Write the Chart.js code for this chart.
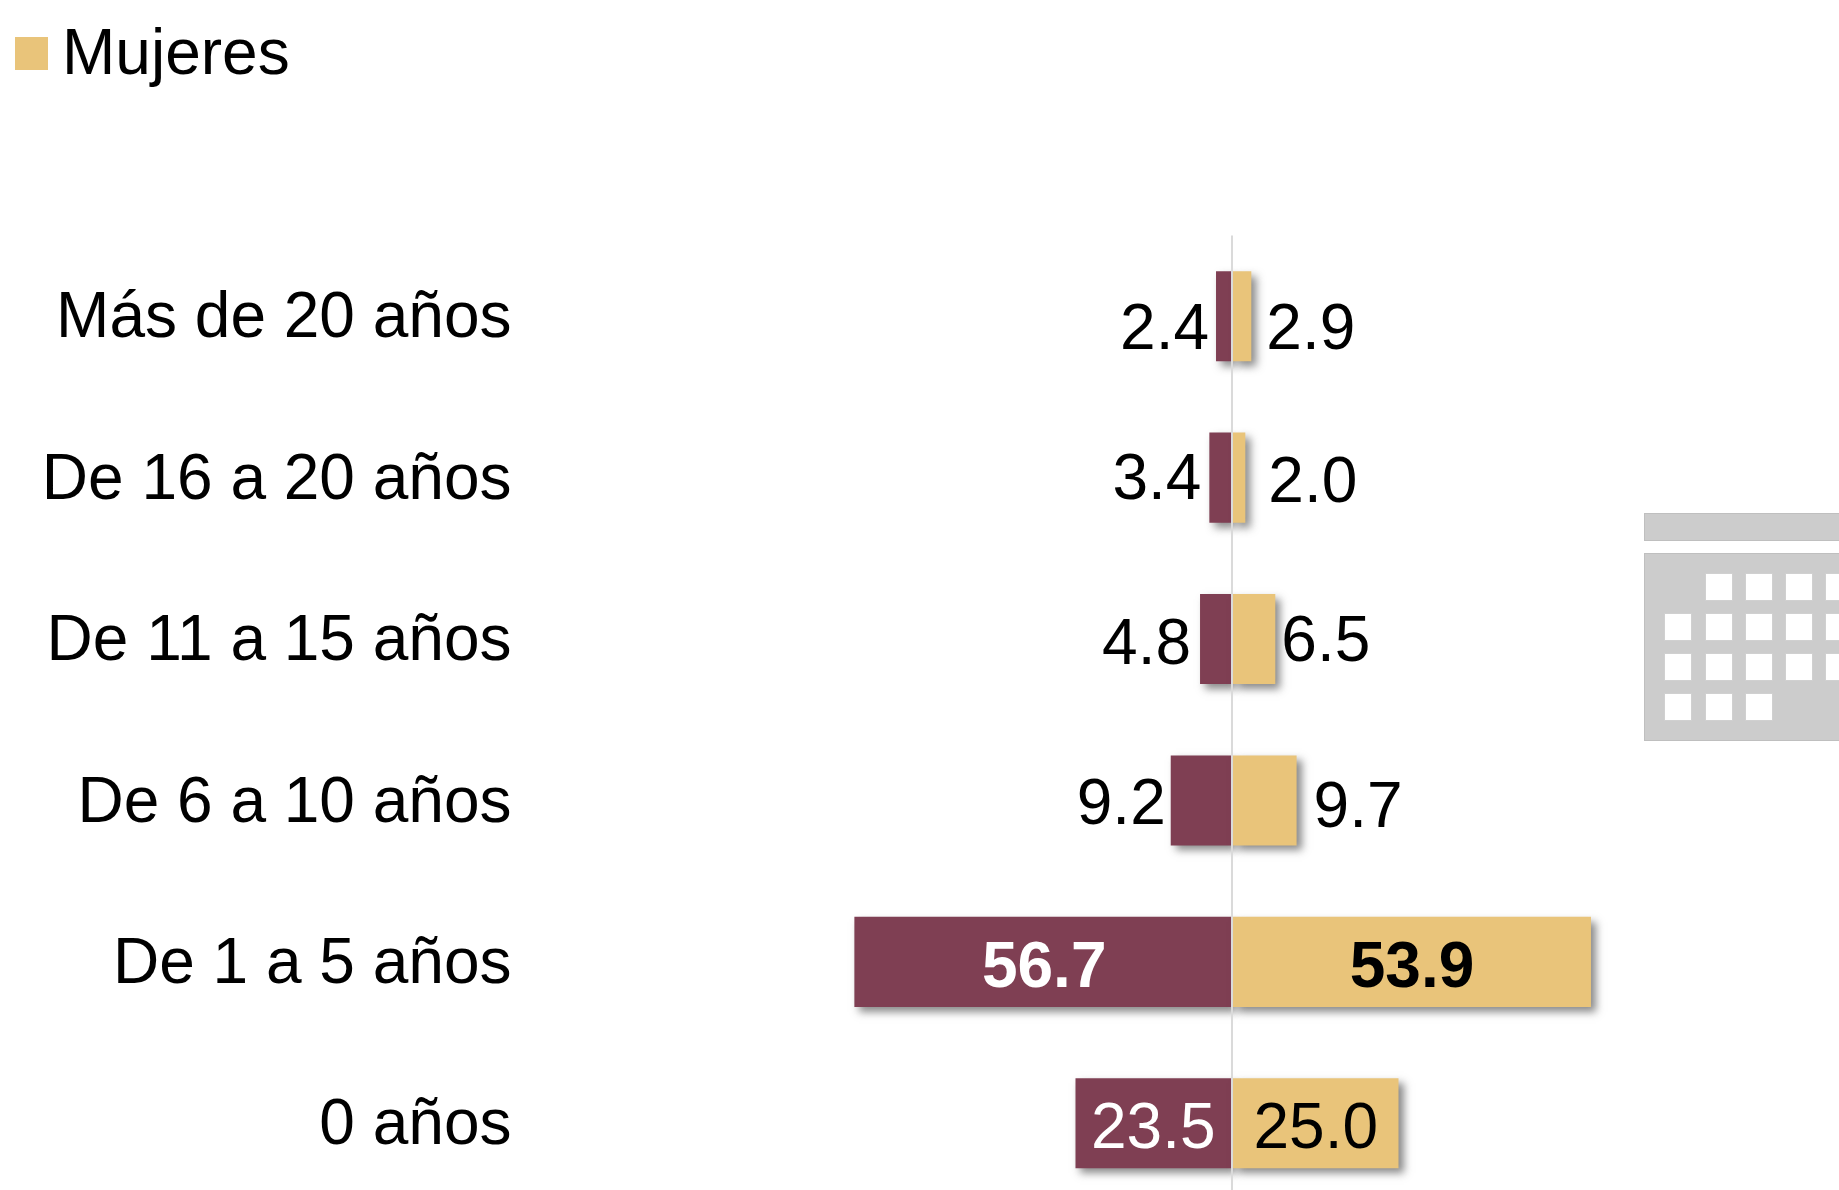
<!DOCTYPE html>
<html lang="es">
<head>
<meta charset="utf-8">
<script src="https://cdn.jsdelivr.net/npm/chart.js@4"></script>
<style>
html,body{margin:0;padding:0;width:1839px;height:1190px;overflow:hidden;background:#fff}
#wrap{position:relative;width:1839px;height:1190px;overflow:hidden}
canvas{position:absolute;left:0;top:0}
</style>
</head>
<body>
<div id="wrap"><canvas id="c" width="1839" height="1210"></canvas></div>
<script>
const categories = ["Más de 20 años","De 16 a 20 años","De 11 a 15 años","De 6 a 10 años","De 1 a 5 años","0 años"];
const hombres = [2.4,3.4,4.8,9.2,56.7,23.5];
const mujeres = [2.9,2.0,6.5,9.7,53.9,25.0];
const legendLabel = "Mujeres";
const WINE = "#7F3F53", GOLD = "#E9C47A", FONT = '"Liberation Sans", Arial, sans-serif';

const hombresDx = [-7,-8,-9,-5,null,null];
const hombresDy = [33,21,25,24,25,25];
const mujeresDx = [15,23,6,17,null,null];
const mujeresDy = [33,24,22,27,25,25];
const labelShiftX = [0,0,0,0,1.5,0];

const shadow = {
  id:'shadow',
  beforeDatasetsDraw(chart){
    const c = chart.ctx; c.save();
    c.shadowColor='rgba(60,60,60,.6)'; c.shadowBlur=8; c.shadowOffsetX=5; c.shadowOffsetY=5;
  },
  afterDatasetsDraw(chart){ chart.ctx.restore(); }
};

const valueLabels = {
  id:'valueLabels',
  afterDraw(chart){
    const c = chart.ctx; c.save(); c.textBaseline='alphabetic';
    [[0,hombres,hombresDx,hombresDy,'right','#fff'],[1,mujeres,mujeresDx,mujeresDy,'left','#000']].forEach(([i,vals,dx,dy,al,inside])=>{
      chart.getDatasetMeta(i).data.forEach((b,j)=>{
        const centred = dx[j]===null;
        c.font=(vals[j]>50?'bold ':'')+'64px '+FONT;
        c.fillStyle=centred?inside:'#000';
        c.textAlign=centred?'center':al;
        c.fillText(vals[j].toFixed(1), centred?(b.x+b.base)/2+(i===0?labelShiftX[j]:0):b.x+dx[j], b.y+dy[j]);
      });
    });
    c.restore();
  }
};

const decorations = {
  id:'decorations',
  beforeDraw(chart){
    const c = chart.ctx; c.save();
    c.fillStyle=GOLD; c.fillRect(15,37,33,33);
    c.fillStyle='#000'; c.font='64px '+FONT; c.textAlign='left'; c.textBaseline='alphabetic';
    c.fillText(legendLabel,62,74);
    c.fillStyle='#CCCCCC'; c.strokeStyle='#BFBFBF'; c.lineWidth=1;
    c.fillRect(1644,513,200,27); c.strokeRect(1644.5,513.5,200,27);
    c.fillRect(1644,553,200,187); c.strokeRect(1644.5,553.5,200,187);
    const xs=[1664,1705,1745,1785,1825], ys=[573,613,653,693];
    const skip=(r,q)=>(r===0&&q===0)||(r===3&&q>=3);
    c.fillStyle='#fff'; c.strokeStyle='#D0D0D0';
    ys.forEach((y,r)=>xs.forEach((x,q)=>{ if(skip(r,q))return; c.fillRect(x,y,27,27); c.strokeRect(x+.5,y+.5,27,27); }));
    c.restore();
  }
};

new Chart(document.getElementById('c'),{
  type:'bar',
  data:{labels:categories,datasets:[
    {label:'Hombres',order:1,data:hombres.map(v=>-v),backgroundColor:WINE,barPercentage:.5576,categoryPercentage:1},
    {label:'Mujeres',order:0,data:mujeres,backgroundColor:GOLD,barPercentage:.5576,categoryPercentage:1}
  ]},
  options:{
    indexAxis:'y',responsive:false,animation:false,
    layout:{padding:{top:235.5,bottom:6,left:0,right:7.6}},
    plugins:{legend:{display:false},tooltip:{enabled:false}},
    scales:{
      x:{stacked:true,min:-100,max:90,
        afterFit(s){s.height=0;s.paddingTop=0;s.paddingBottom=0;},
        ticks:{display:false,stepSize:10},border:{display:false},
        grid:{z:1,drawTicks:false,lineWidth:2,color:ctx=>ctx.tick&&ctx.tick.value===0?'#DADADA':'transparent'}},
      y:{stacked:true,
        afterFit(s){s.width=566;s.paddingTop=0;s.paddingBottom=0;},
        border:{display:false},grid:{display:false,drawTicks:false},
        ticks:{color:'#000',font:{family:FONT,size:64},padding:54.5,labelOffset:3.5,autoSkip:false,crossAlign:'near'}}
    }
  },
  plugins:[decorations,shadow,valueLabels]
});
</script>
</body>
</html>
